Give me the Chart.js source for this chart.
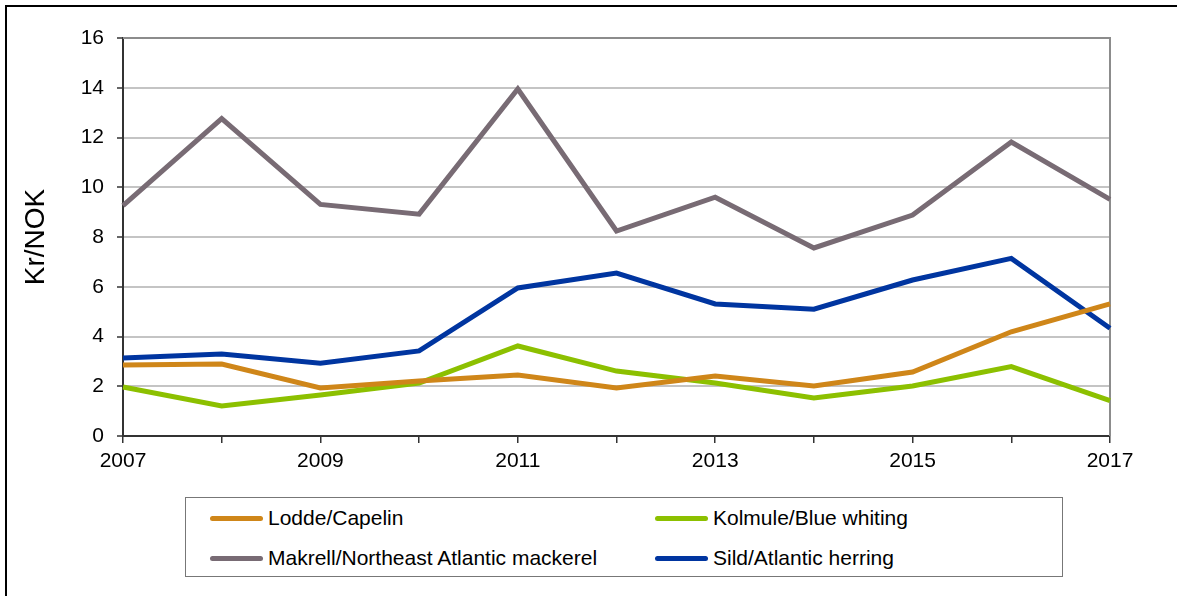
<!DOCTYPE html>
<html lang="en">
  <head>
    <meta charset="UTF-8" />
    <title>Kr/NOK 2007-2017</title>
    <script src="https://cdn.jsdelivr.net/npm/chart.js"></script>
    <style>
      body {
        margin: 0;
        background: #fff;
        font-family: "Liberation Sans", Arial, sans-serif;
      }
      .wrap {
        position: relative;
        width: 1177px;
        height: 596px;
        overflow: hidden;
      }
      .frame {
        position: absolute;
        left: 5px;
        top: 5px;
        right: 0;
        bottom: 0;
        border-top: 2px solid #000;
        border-left: 2px solid #000;
        pointer-events: none;
      }
      #chart {
        position: absolute;
        left: 0;
        top: 0;
      }
      .legend {
        position: absolute;
        left: 185px;
        top: 497px;
        width: 876px;
        height: 78px;
        border: 1px solid #777;
        background: #fff;
      }
      .legend .item {
        position: absolute;
        display: flex;
        align-items: center;
        height: 24px;
        font-size: 21px;
        color: #000;
        white-space: nowrap;
      }
      .legend .swatch {
        width: 53px;
        height: 5px;
        border-radius: 3px;
        margin-right: 5px;
      }
    </style>
  </head>

  <body>
    <div class="wrap">
      <canvas id="chart" width="1177" height="596"></canvas>
      <div class="frame"></div>
      <div class="legend" id="legend"></div>
    </div>

    <script>
      const years = ["2007", "2008", "2009", "2010", "2011", "2012", "2013", "2014", "2015", "2016", "2017"];
      const yTicks = [0, 2, 4, 6, 8, 10, 12, 14, 16];

      const lodde = [2.85, 2.89, 1.93, 2.21, 2.45, 1.93, 2.41, 2.01, 2.57, 4.19, 5.31];
      const kolmule = [1.97, 1.21, 1.65, 2.13, 3.62, 2.61, 2.13, 1.53, 2.01, 2.79, 1.42];
      const makrell = [9.26, 12.76, 9.31, 8.92, 13.95, 8.24, 9.6, 7.56, 8.88, 11.82, 9.51];
      const sild = [3.14, 3.3, 2.93, 3.42, 5.95, 6.55, 5.31, 5.1, 6.27, 7.14, 4.33];

      const seriesNames = [
        "Lodde/Capelin",
        "Kolmule/Blue whiting",
        "Makrell/Northeast Atlantic mackerel",
        "Sild/Atlantic herring",
      ];
      const seriesColors = ["#cf8619", "#8cc000", "#786b74", "#0035a0"];
      const seriesValues = [lodde, kolmule, makrell, sild];

      Chart.defaults.font.family = "'Liberation Sans', Arial, sans-serif";
      Chart.defaults.color = "#000";

      const datasets = seriesNames.map((name, i) => ({
        label: name,
        data: seriesValues[i],
        borderColor: seriesColors[i],
        backgroundColor: seriesColors[i],
        borderWidth: 5,
        pointRadius: 0,
        tension: 0,
        fill: false,
      }));

      // gray top + right edge of the plot area
      const plotFrame = {
        id: "plotFrame",
        beforeDatasetsDraw(chart) {
          const { ctx, chartArea } = chart;
          ctx.save();
          ctx.strokeStyle = "#8c8c8c";
          ctx.lineWidth = 2;
          ctx.beginPath();
          ctx.moveTo(chartArea.left, chartArea.top);
          ctx.lineTo(chartArea.right, chartArea.top);
          ctx.lineTo(chartArea.right, chartArea.bottom);
          ctx.stroke();
          ctx.restore();
        },
      };

      new Chart(document.getElementById("chart").getContext("2d"), {
        type: "line",
        data: { labels: years, datasets: datasets },
        plugins: [plotFrame],
        options: {
          responsive: false,
          animation: false,
          layout: { padding: { left: 8, top: 38, right: 67, bottom: 120 } },
          plugins: {
            legend: { display: false },
            tooltip: { enabled: false },
          },
          scales: {
            x: {
              offset: false,
              afterFit: (s) => { s.height = 40; },
              grid: {
                display: true,
                drawOnChartArea: false,
                drawTicks: true,
                tickLength: 7,
                color: "#333",
                lineWidth: 1.5,
              },
              border: { color: "#333", width: 2 },
              ticks: {
                autoSkip: false,
                maxRotation: 0,
                padding: 6,
                font: { size: 21 },
                callback: (v, i) => (i % 2 === 0 ? years[i] : ""),
              },
            },
            y: {
              min: 0,
              max: 16,
              afterFit: (s) => { s.width = 115; },
              afterBuildTicks: (s) => { s.ticks = yTicks.map((v) => ({ value: v })); },
              grid: {
                color: (c) => (c.tick && c.tick.value === 16 ? "#8c8c8c" : "#c4c4c4"),
                lineWidth: 2,
                tickLength: 6,
                tickColor: "#333",
                tickWidth: 1.5,
              },
              border: { color: "#333", width: 2 },
              ticks: {
                padding: 13,
                font: { size: 21 },
              },
              title: {
                display: true,
                text: "Kr/NOK",
                font: { size: 28 },
                padding: { top: 11, bottom: 0 },
              },
            },
          },
        },
      });

      // legend: two columns, built from the dataset names/colours
      const legend = document.getElementById("legend");
      const colX = [24, 469];
      const rowY = [8, 48];
      seriesNames.forEach((name, i) => {
        const item = document.createElement("div");
        item.className = "item";
        item.style.left = colX[i % 2] + "px";
        item.style.top = rowY[Math.floor(i / 2)] + "px";
        item.innerHTML =
          '<span class="swatch" style="background:' + seriesColors[i] + '"></span>' + name;
        legend.appendChild(item);
      });
    </script>
  </body>
</html>
